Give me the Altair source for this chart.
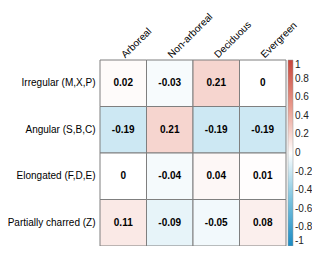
import altair as alt
import pandas as pd

rows = ["Irregular (M,X,P)", "Angular (S,B,C)", "Elongated (F,D,E)", "Partially charred (Z)"]
cols = ["Arboreal", "Non-arboreal", "Deciduous", "Evergreen"]
vals = [
    [0.02, -0.03, 0.21, 0],
    [-0.19, 0.21, -0.19, -0.19],
    [0, -0.04, 0.04, 0.01],
    [0.11, -0.09, -0.05, 0.08],
]
labels = [
    ["0.02", "-0.03", "0.21", "0"],
    ["-0.19", "0.21", "-0.19", "-0.19"],
    ["0", "-0.04", "0.04", "0.01"],
    ["0.11", "-0.09", "-0.05", "0.08"],
]
legend_ticks = [-1, -0.8, -0.6, -0.4, -0.2, 0, 0.2, 0.4, 0.6, 0.8, 1]
color_range = ["#1b8bc3", "#7cc3df", "#ffffff", "#e99a8c", "#c8453a"]

recs = []
for i, r in enumerate(rows):
    for j, c in enumerate(cols):
        recs.append({"row": r, "col": c, "v": vals[i][j], "lab": labels[i][j]})
df = pd.DataFrame(recs)

FONT = "Liberation Sans"

x = alt.X("col:N", sort=cols, title=None,
          axis=alt.Axis(orient="top", labelAngle=-45, labelAlign="left", labelBaseline="middle",
                        labelPadding=4, ticks=False, domain=False, labelFont=FONT,
                        labelFontSize=10, labelColor="black"))
y = alt.Y("row:N", sort=rows, title=None,
          axis=alt.Axis(ticks=False, domain=False, labelFont=FONT, labelFontSize=10,
                        labelColor="black", labelPadding=5, labelLimit=200))

rect = alt.Chart(df).mark_rect(stroke="#7f7f7f", strokeWidth=1).encode(
    x=x, y=y,
    color=alt.Color("v:Q", title=None,
                    scale=alt.Scale(domain=[-1, 1], range=color_range, interpolate="rgb"),
                    legend=alt.Legend(orient="none", legendX=188, legendY=0, direction="vertical",
                                      gradientLength=186, gradientThickness=5,
                                      values=legend_ticks, labelExpr="toString(datum.value)",
                                      labelFont=FONT, labelFontSize=10, labelColor="#222222",
                                      labelOffset=2, labelOverlap=False,
                                      gradientStrokeColor="#999999", gradientStrokeWidth=0.5)),
)
text = alt.Chart(df).mark_text(font=FONT, fontSize=10, fontWeight="bold", color="black").encode(
    x=alt.X("col:N", sort=cols), y=alt.Y("row:N", sort=rows), text="lab:N"
)

chart = alt.layer(rect, text).properties(
    width=186, height=186, autosize="none",
    padding={"left": 92, "top": 52, "right": 26, "bottom": 0},
).configure_view(stroke=None)

chart.save("out.html", embed_options={"renderer": "svg", "actions": False})
